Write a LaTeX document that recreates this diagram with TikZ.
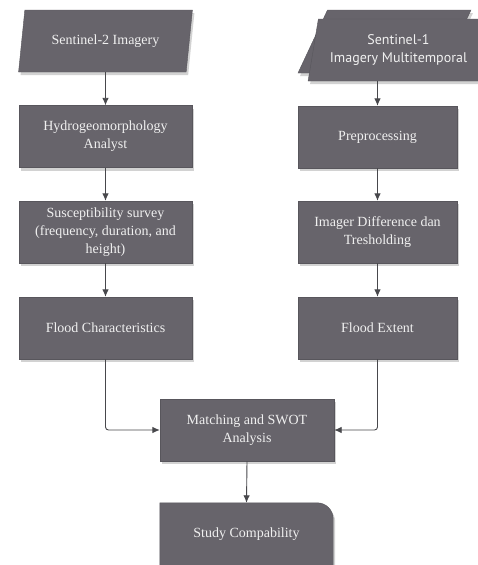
\documentclass[tikz,border=0pt]{standalone}
\usepackage{fontspec}
\setmainfont{Liberation Serif}
\newfontfamily\sfont{PT Sans}
\usetikzlibrary{shapes.geometric,shadows,backgrounds,arrows.meta}
\definecolor{boxgray}{RGB}{103,100,107}
\definecolor{boxedge}{RGB}{88,86,92}
\definecolor{textwhite}{RGB}{240,240,240}
\definecolor{linegray}{RGB}{72,72,76}
\begin{document}
\begin{tikzpicture}[x=1pt, y=-1pt, font=\fontsize{14}{18}\selectfont,
  shade/.style={drop shadow={shadow xshift=2pt, shadow yshift=-3pt, opacity=0.35}},
  box/.style={rectangle, fill=boxgray, draw=boxedge, line width=0.4pt, text=textwhite,
    align=center, minimum height=62pt, inner sep=2pt, shade},
  para/.style={trapezium, trapezium left angle=75.5, trapezium right angle=104.5,
    trapezium stretches=true, fill=boxgray, draw=boxedge, line width=0.4pt,
    text=textwhite, align=center, minimum height=62pt, inner sep=2pt, shade},
  arr/.style={draw=linegray, line width=0.9pt, -{Latex[length=7.5pt, width=6.5pt]}}]
  \useasboundingbox (0,0) rectangle (477,565);
  \node[para, minimum width=174pt] (s2) at (105.5,41) {Sentinel-2 Imagery};
  \node[para, minimum width=173pt, minimum height=63pt] (s1back) at (384.5,41.5) {};
  \node[para, minimum width=181pt, font=\sfont\fontsize{14}{18}\selectfont] (s1) at (398.5,50)
    {Sentinel-1\\Imagery Multitemporal};
  \node[box, minimum width=173pt] (hydro) at (105.5,136.5) {Hydrogeomorphology\\Analyst};
  \node[box, minimum width=173pt] (susc) at (105.5,232) {Susceptibility survey\\(frequency, duration, and\\height)};
  \node[box, minimum width=173pt] (floodc) at (105.5,328) {Flood Characteristics};
  \node[box, minimum width=159pt] (prep) at (377.5,137) {Preprocessing};
  \node[box, minimum width=159pt] (diff) at (377.5,232) {Imager Difference dan\\Tresholding};
  \node[box, minimum width=159pt] (floodx) at (377.5,328) {Flood Extent};
  \node[box, minimum width=174pt] (match) at (247,430) {Matching and SWOT\\Analysis};
  \node[text=textwhite, minimum width=173pt, minimum height=62pt, inner sep=0pt] (study) at (246.5,534)
    {Study Compability};
  \begin{scope}[on background layer]
    \fill[white] (0,0) rectangle (477,565);
    \path[fill=boxgray, draw=boxedge, line width=0.4pt, shade]
      (study.south west) -- (study.north west) -- ([xshift=-16pt]study.north east)
      arc[start angle=90, end angle=0, radius=16pt] -- (study.south east) -- cycle;
  \end{scope}
  \draw[arr] (s2.south) -- (hydro.north);
  \draw[arr] (hydro) -- (susc);
  \draw[arr] (susc) -- (floodc);
  \draw[arr] (s1.south -| prep.north) -- (prep.north);
  \draw[arr] (prep) -- (diff);
  \draw[arr] (diff) -- (floodx);
  \draw[arr, rounded corners=3pt] (floodc.south) |- (match.west);
  \draw[arr, rounded corners=3pt] (floodx.south) |- (match.east);
  \draw[arr] (match.south) -- (study.north);
\end{tikzpicture}
\end{document}
